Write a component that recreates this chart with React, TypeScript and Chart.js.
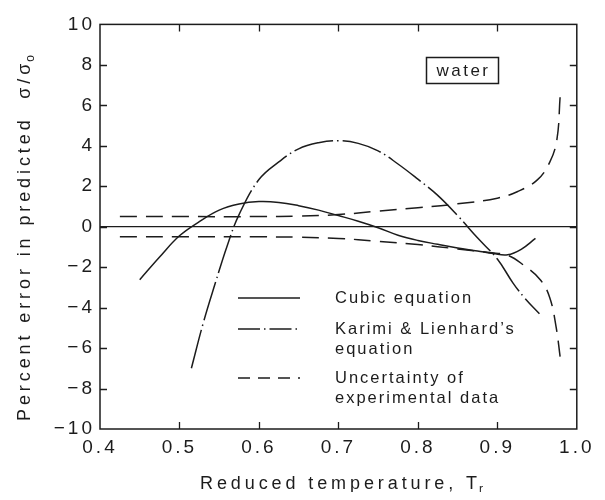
import React, { useEffect, useRef } from "react";
import { Chart, registerables } from "chart.js";

Chart.register(...registerables);

// ---- data ----
const X_TICKS = [0.4, 0.5, 0.6, 0.7, 0.8, 0.9, 1.0];
const Y_TICKS = [-10, -8, -6, -4, -2, 0, 2, 4, 6, 8, 10];

const CUBIC_X = [0.45, 0.475, 0.5, 0.525, 0.55, 0.575, 0.6, 0.625, 0.65, 0.675, 0.7, 0.725, 0.75, 0.775, 0.8, 0.825, 0.85, 0.875, 0.895, 0.913, 0.93, 0.948];
const CUBIC_Y = [-2.62, -1.5, -0.45, 0.25, 0.82, 1.12, 1.24, 1.2, 1.04, 0.82, 0.55, 0.27, -0.05, -0.42, -0.68, -0.87, -1.05, -1.2, -1.33, -1.39, -1.12, -0.58];

const KARIMI_X = [0.515, 0.53, 0.545, 0.56, 0.575, 0.6, 0.625, 0.65, 0.675, 0.7, 0.725, 0.75, 0.775, 0.8, 0.825, 0.85, 0.875, 0.9, 0.92, 0.935, 0.953];
const KARIMI_Y = [-7.0, -4.75, -2.8, -0.95, 0.6, 2.33, 3.2, 3.85, 4.15, 4.25, 4.12, 3.75, 3.1, 2.35, 1.55, 0.55, -0.55, -1.6, -2.8, -3.55, -4.3];

const UPPER_X = [0.425, 0.5, 0.6, 0.65, 0.7, 0.75, 0.8, 0.85, 0.9, 0.925, 0.95, 0.966, 0.975, 0.979];
const UPPER_Y = [0.5, 0.5, 0.5, 0.53, 0.6, 0.77, 0.94, 1.13, 1.41, 1.73, 2.3, 3.19, 4.32, 6.42];

const LOWER_X = [0.425, 0.5, 0.6, 0.65, 0.7, 0.75, 0.8, 0.85, 0.89, 0.913, 0.933, 0.954, 0.966, 0.974, 0.979];
const LOWER_Y = [-0.5, -0.5, -0.5, -0.52, -0.58, -0.72, -0.88, -1.1, -1.28, -1.41, -1.9, -2.62, -3.51, -4.96, -6.42];

const LEGEND_LABELS = [
  ["Cubic equation"],
  ["Karimi & Lienhard\u2019s", "equation"],
  ["Uncertainty of", "experimental data"],
];
const X_TITLE = "Reduced temperature, T";
const X_TITLE_SUB = "r";
const Y_TITLE = "Percent error in predicted  \u03C3/\u03C3";
const Y_TITLE_SUB = "o";
const BOX_LABEL = "water";

// ---- styles ----
const INK = "#1c1c1c";
const FONT = "'Liberation Sans', Arial, Helvetica, sans-serif";
const DASH_DOT = [40, 4, 1.5, 4];
const DASHED = [17, 9];

const pts = (xs: number[], ys: number[]) => xs.map((x, i) => ({ x, y: ys[i] }));

const decorPlugin = {
  id: "decor",
  beforeDraw(chart: any) {
    chart.ctx.letterSpacing = "3px";
  },
  afterDraw(chart: any) {
    const { ctx, chartArea: a, scales } = chart;
    const xs = scales.x;
    const ys = scales.y;
    ctx.save();
    ctx.letterSpacing = "0px";
    ctx.strokeStyle = INK;
    ctx.setLineDash([]);
    // frame
    ctx.lineWidth = 1.5;
    ctx.strokeRect(a.left, a.top, a.right - a.left, a.bottom - a.top);
    // zero line
    const y0 = ys.getPixelForValue(0);
    ctx.lineWidth = 1.2;
    ctx.beginPath();
    ctx.moveTo(a.left, y0);
    ctx.lineTo(a.right, y0);
    ctx.stroke();
    // inward ticks
    const TL = 7;
    ctx.lineWidth = 1.3;
    ctx.beginPath();
    X_TICKS.slice(1, -1).forEach((v) => {
      const p = Math.round(xs.getPixelForValue(v)) + 0.5;
      ctx.moveTo(p, a.bottom);
      ctx.lineTo(p, a.bottom - TL);
      ctx.moveTo(p, a.top);
      ctx.lineTo(p, a.top + TL);
    });
    Y_TICKS.slice(1, -1).forEach((v) => {
      const p = Math.round(ys.getPixelForValue(v)) + 0.5;
      ctx.moveTo(a.left, p);
      ctx.lineTo(a.left + TL, p);
      ctx.moveTo(a.right, p);
      ctx.lineTo(a.right - TL, p);
    });
    ctx.stroke();

    // legend
    const lx0 = 230, lx1 = 292, tx = 327;
    const rows = [290, 321, 370];
    const dashes = [[], [22, 4, 1.5, 4], [12, 8]];
    ctx.lineWidth = 1.5;
    rows.forEach((ry, i) => {
      ctx.setLineDash(dashes[i]);
      ctx.beginPath();
      ctx.moveTo(lx0, ry);
      ctx.lineTo(lx1, ry);
      ctx.stroke();
    });
    ctx.setLineDash([]);
    ctx.fillStyle = INK;
    ctx.font = `16.5px ${FONT}`;
    ctx.letterSpacing = "2px";
    ctx.textAlign = "left";
    ctx.textBaseline = "middle";
    LEGEND_LABELS.forEach((lines, i) => {
      lines.forEach((t, j) => ctx.fillText(t, tx, rows[i] + j * 20));
    });

    // water box
    ctx.lineWidth = 1.5;
    ctx.strokeRect(418.5, 49.5, 72, 26);
    ctx.font = `17px ${FONT}`;
    ctx.letterSpacing = "2.5px";
    ctx.textAlign = "center";
    ctx.fillText(BOX_LABEL, 455.5, 63);

    // axis titles
    const drawTitle = (main: string, sub: string, cx: number, cy: number, rot: number) => {
      ctx.save();
      ctx.translate(cx, cy);
      ctx.rotate(rot);
      ctx.textAlign = "left";
      ctx.textBaseline = "alphabetic";
      ctx.font = `18px ${FONT}`;
      ctx.letterSpacing = "3.9px";
      const w1 = ctx.measureText(main).width;
      ctx.font = `12px ${FONT}`;
      ctx.letterSpacing = "1px";
      const w2 = ctx.measureText(sub).width;
      const start = -(w1 + w2) / 2;
      ctx.font = `18px ${FONT}`;
      ctx.letterSpacing = "3.9px";
      ctx.fillText(main, start, 6);
      ctx.font = `12px ${FONT}`;
      ctx.letterSpacing = "1px";
      ctx.fillText(sub, start + w1 - 2, 10);
      ctx.restore();
    };
    drawTitle(X_TITLE, X_TITLE_SUB, 335, 475, 0);
    drawTitle(Y_TITLE, Y_TITLE_SUB, 16, 228.5, -Math.PI / 2);
    ctx.restore();
  },
};

export default function App() {
  const ref = useRef<HTMLCanvasElement | null>(null);
  useEffect(() => {
    if (!ref.current) return;
    const base = {
      pointRadius: 0,
      borderColor: INK,
      borderWidth: 1.5,
      fill: false,
      tension: 0.4,
    };
    const chart = new Chart(ref.current, {
      type: "line",
      data: {
        datasets: [
          { ...base, label: "Cubic equation", data: pts(CUBIC_X, CUBIC_Y) },
          { ...base, label: "Karimi & Lienhard\u2019s equation", data: pts(KARIMI_X, KARIMI_Y), borderDash: DASH_DOT },
          { ...base, label: "Uncertainty of experimental data", data: pts(UPPER_X, UPPER_Y), borderDash: DASHED },
          { ...base, label: "Uncertainty (lower)", data: pts(LOWER_X, LOWER_Y), borderDash: DASHED },
        ],
      },
      options: {
        animation: false,
        responsive: false,
        maintainAspectRatio: false,
        layout: { padding: { top: 8, right: 10, left: 0, bottom: 0 } },
        plugins: { legend: { display: false }, tooltip: { enabled: false } },
        scales: {
          x: {
            type: "linear",
            min: 0.4,
            max: 1.0,
            afterFit: (s: any) => {
              s.height = 63;
            },
            grid: { display: false, drawTicks: false },
            border: { display: false },
            ticks: {
              stepSize: 0.1,
              autoSkip: false,
              maxRotation: 0,
              padding: 7,
              color: INK,
              font: { family: FONT, size: 19 },
              callback: (v: any) => Number(v).toFixed(1),
            },
          },
          y: {
            type: "linear",
            min: -10,
            max: 10,
            afterFit: (s: any) => {
              s.width = 92;
            },
            grid: { display: false, drawTicks: false },
            border: { display: false },
            ticks: {
              stepSize: 2,
              autoSkip: false,
              padding: 5,
              color: INK,
              font: { family: FONT, size: 19 },
              callback: (v: any) => (Number(v) < 0 ? "\u2212" + Math.abs(Number(v)) : String(v)),
            },
          },
        },
      },
      plugins: [decorPlugin],
    });
    return () => chart.destroy();
  }, []);
  return <canvas ref={ref} width={589} height={484} style={{ display: "block" }} />;
}
